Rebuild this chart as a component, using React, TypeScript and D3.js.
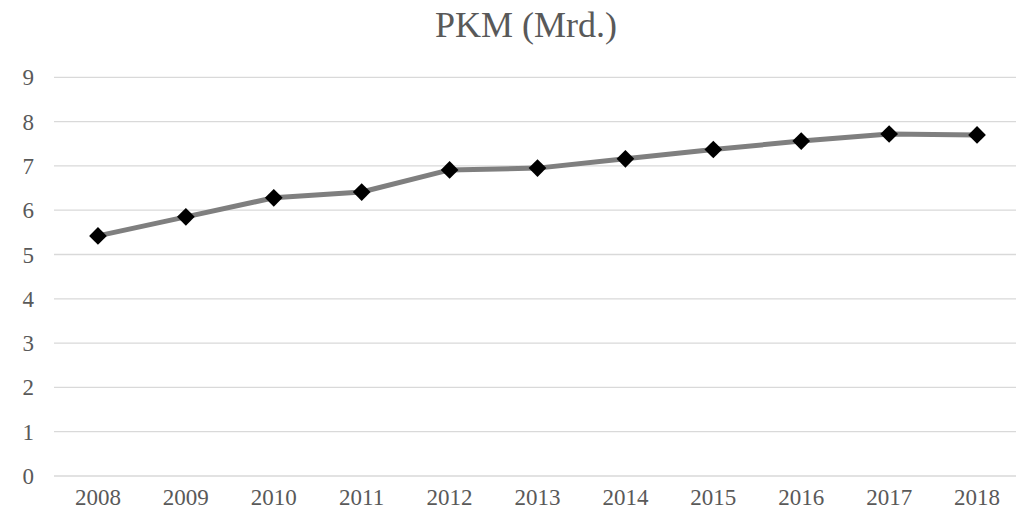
import React from 'react';
import * as d3 from 'd3';

const years = ['2008', '2009', '2010', '2011', '2012', '2013', '2014', '2015', '2016', '2017', '2018'];
const pkm = [5.42, 5.85, 6.28, 6.41, 6.91, 6.95, 7.16, 7.37, 7.56, 7.72, 7.70];
const yTicks = [0, 1, 2, 3, 4, 5, 6, 7, 8, 9];

const W = 1020;
const H = 517;
const font = '"Liberation Serif", "Times New Roman", serif';
const textColor = '#595959';

const App = () => {
  const x = d3.scaleBand().domain(years).range([54, 1021]);
  const y = d3.scaleLinear().domain([0, 9]).range([476, 77.3]);
  const cx = (yr: string) => x(yr)! + x.bandwidth() / 2;

  const line = d3
    .line<number>()
    .x((_, i) => cx(years[i]))
    .y((d) => y(d));

  const diamond = d3.symbol().type(d3.symbolDiamond2).size(200);

  return (
    <svg width={W} height={H} style={{ position: 'absolute', left: 0, top: 0, background: '#fff' }}>
      <text x={526} y={37} textAnchor="middle" fontFamily={font} fontSize={36} fill={textColor}>
        PKM (Mrd.)
      </text>
      {yTicks.map((t) => (
        <g key={t}>
          <line x1={54} x2={1016} y1={y(t)} y2={y(t)} stroke="#d9d9d9" strokeWidth={1.3} />
          <text x={34} y={y(t)} dy="0.35em" textAnchor="end" fontFamily={font} fontSize={23} fill={textColor}>
            {t}
          </text>
        </g>
      ))}
      {years.map((yr) => (
        <text key={yr} x={cx(yr)} y={505} textAnchor="middle" fontFamily={font} fontSize={23} fill={textColor}>
          {yr}
        </text>
      ))}
      <path d={line(pkm) ?? ''} fill="none" stroke="#7f7f7f" strokeWidth={5} strokeLinejoin="round" />
      {pkm.map((v, i) => (
        <path key={years[i]} d={diamond() ?? ''} transform={`translate(${cx(years[i])},${y(v)})`} fill="#000" />
      ))}
    </svg>
  );
};

export default App;
